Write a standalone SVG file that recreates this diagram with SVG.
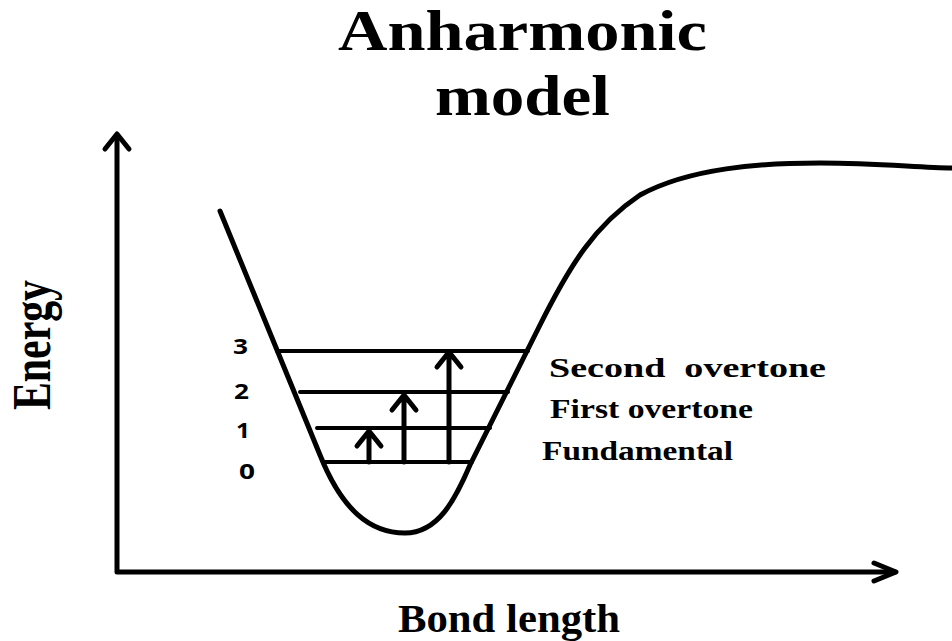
<svg xmlns="http://www.w3.org/2000/svg" width="952" height="641" viewBox="0 0 952 641">
<style>
.ln{fill:none;stroke:#000;stroke-linecap:round;stroke-linejoin:round}
.serif{font-family:"Liberation Serif","Times New Roman",serif;font-weight:bold;fill:#000}
.sans{font-family:"Open Sans","Liberation Sans",sans-serif;font-weight:bold;fill:#000;font-size:22px}
</style>
<rect width="952" height="641" fill="#fff"/>
<g id="title">
<text class="serif" x="338" y="50" font-size="56" textLength="369" lengthAdjust="spacingAndGlyphs">Anharmonic</text>
<text class="serif" x="435" y="115" font-size="56" textLength="175" lengthAdjust="spacingAndGlyphs">model</text>
</g>
<g id="axes">
<path class="ln" stroke-width="5" d="M117,136 L117,572 L895,572"/>
<path class="ln" stroke-width="5" d="M105,149 L117,134 L129,149"/>
<path class="ln" stroke-width="5" d="M874,563 L896,572 L874,581"/>
</g>
<g id="curve">
<path class="ln" stroke-width="5" d="M220,211 L320,455 C342,510 370,533 405,533 C438,533 455,500 470,465 L540,325 C570,265 595,225 640,195 C690,168 760,163 820,163 C880,163 920,168 952,168"/>
</g>
<g id="levels">
<path class="ln" stroke-width="4" stroke-linecap="butt" d="M277,351 H528 M300,392 H508 M317,428 H490 M325,462 H472"/>
</g>
<g id="connectors">
<path class="ln" stroke-width="5" d="M369,462 V432 M357,446 L369,431 L381,446"/>
<path class="ln" stroke-width="5" d="M404,462 V396 M392,410 L404,395 L416,410"/>
<path class="ln" stroke-width="5" d="M449,462 V354 M437,367 L449,352 L461,367"/>
</g>
<g id="numbers">
<text class="sans" x="233" y="354" textLength="15" lengthAdjust="spacingAndGlyphs">3</text>
<text class="sans" x="234" y="399" textLength="15" lengthAdjust="spacingAndGlyphs">2</text>
<text class="sans" x="236" y="438" textLength="14" lengthAdjust="spacingAndGlyphs">1</text>
<text class="sans" x="239" y="479" textLength="16" lengthAdjust="spacingAndGlyphs">0</text>
</g>
<g id="labels">
<text class="serif" x="549" y="377" font-size="27" textLength="277" lengthAdjust="spacingAndGlyphs" xml:space="preserve">Second  overtone</text>
<text class="serif" x="550" y="418" font-size="27" textLength="203" lengthAdjust="spacingAndGlyphs">First overtone</text>
<text class="serif" x="542" y="460" font-size="28" textLength="191" lengthAdjust="spacingAndGlyphs">Fundamental</text>
</g>
<g id="axis-labels">
<text class="serif" x="398" y="632" font-size="40" textLength="222" lengthAdjust="spacingAndGlyphs">Bond length</text>
<text class="serif" transform="translate(50,410) rotate(-90)" x="0" y="0" font-size="54" textLength="130" lengthAdjust="spacingAndGlyphs">Energy</text>
</g>
</svg>
